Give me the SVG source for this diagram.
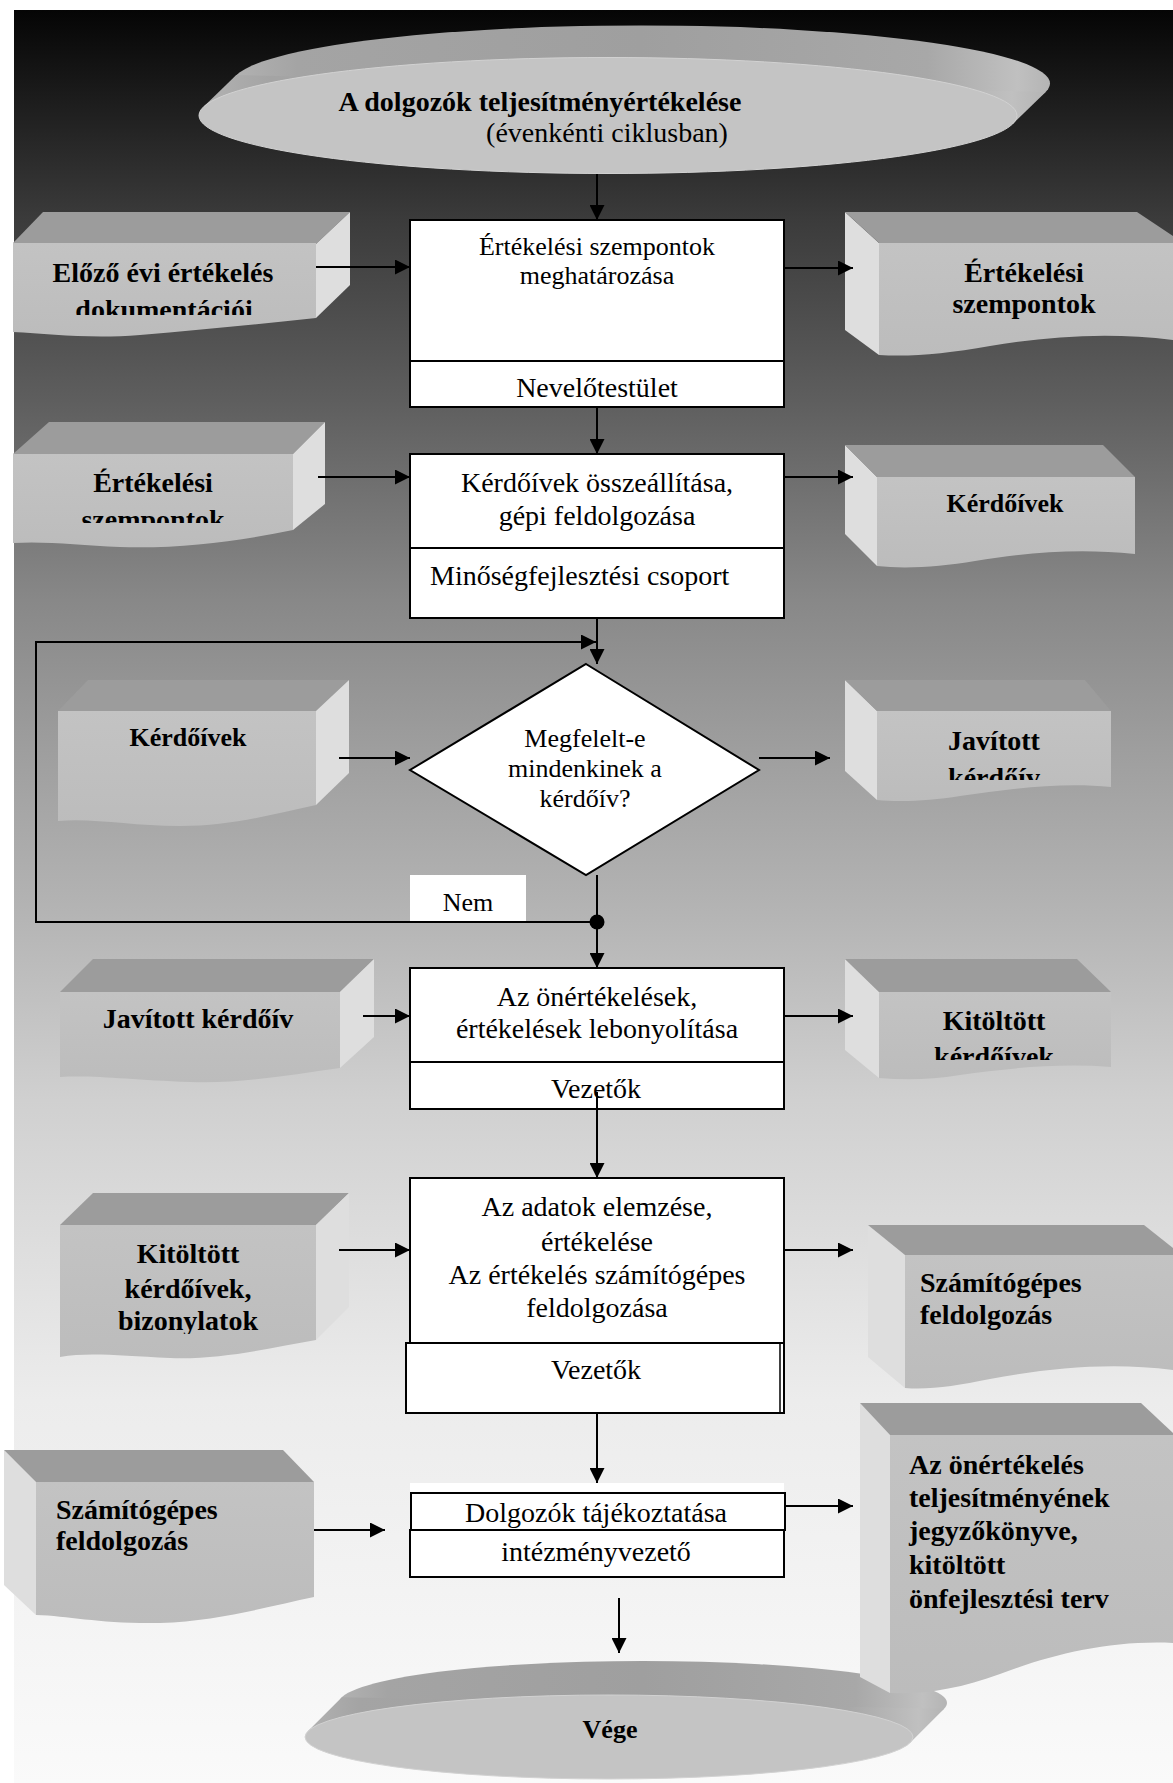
<svg xmlns="http://www.w3.org/2000/svg" width="1173" height="1783" viewBox="0 0 1173 1783">
<defs>
<style>
.t{font-family:"Liberation Serif","Times New Roman",serif;font-size:28px;fill:#000}
.b{font-weight:bold}
.c{text-anchor:middle}
.box{fill:#fff;stroke:#000;stroke-width:2}
.top{fill:#9c9c9c}
.side{fill:#dedede}
.front{fill:url(#docFront)}
.rim{fill:url(#rim)}
.face{fill:#c4c4c4;stroke:#d2d2d2;stroke-width:1}
.conn{stroke:#000;stroke-width:2;fill:none}
</style>
<linearGradient id="bg" x1="0" y1="0" x2="0" y2="1">
<stop offset="0" stop-color="#050505"/>
<stop offset="0.118" stop-color="#3b3b3b"/>
<stop offset="0.22" stop-color="#5e5e5e"/>
<stop offset="0.333" stop-color="#888888"/>
<stop offset="0.417" stop-color="#9e9e9e"/>
<stop offset="0.513" stop-color="#b5b5b5"/>
<stop offset="0.615" stop-color="#d0d0d0"/>
<stop offset="0.784" stop-color="#ececec"/>
<stop offset="1" stop-color="#fafafa"/>
</linearGradient>
<linearGradient id="docFront" x1="0" y1="0" x2="0" y2="1">
<stop offset="0" stop-color="#c3c3c3"/>
<stop offset="1" stop-color="#bcbcbc"/>
</linearGradient>
<linearGradient id="rim" x1="0" y1="0" x2="1" y2="0">
<stop offset="0" stop-color="#b2b2b2"/>
<stop offset="0.08" stop-color="#a4a4a4"/>
<stop offset="0.5" stop-color="#9f9f9f"/>
<stop offset="0.85" stop-color="#a8a8a8"/>
<stop offset="0.96" stop-color="#c0c0c0"/>
<stop offset="1" stop-color="#b4b4b4"/>
</linearGradient>
<marker id="ah" markerUnits="userSpaceOnUse" markerWidth="15" markerHeight="15" refX="15" refY="7.5" orient="auto">
<path d="M0,0 L15,7.5 L0,15 Z" fill="#000"/>
</marker>
<clipPath id="clipL1"><rect x="13" y="243" width="305" height="72"/></clipPath>
<clipPath id="clipL2"><rect x="13" y="454" width="280" height="69"/></clipPath>
<clipPath id="clipR3"><rect x="877" y="711" width="234" height="69"/></clipPath>
<clipPath id="clipR4"><rect x="879" y="992" width="232" height="68"/></clipPath>
<clipPath id="clipL5"><rect x="60" y="1225" width="256" height="109"/></clipPath>
</defs>

<rect x="14" y="10" width="1159" height="1773" fill="url(#bg)"/>

<g id="start">
<ellipse class="rim" cx="641" cy="83.5" rx="409" ry="58"/>
<polygon class="rim" points="203.3,107.1 236.3,75.1 1045.7,91.9 1012.7,123.9"/>
<ellipse class="face" cx="608" cy="115.5" rx="409" ry="58"/>
<text class="t b c" x="540" y="111">A dolgozók teljesítményértékelése</text>
<text class="t c" x="607" y="142">(évenkénti ciklusban)</text>
</g>

<g id="box1">
<rect class="box" x="410" y="220" width="374" height="141"/>
<rect class="box" x="410" y="361" width="374" height="46"/>
<text class="t c" x="597" y="255" style="font-size:26px">Értékelési szempontok</text>
<text class="t c" x="597" y="284" style="font-size:26px">meghatározása</text>
<text class="t c" x="597" y="397">Nevelőtestület</text>
</g>

<g id="box2">
<rect class="box" x="410" y="454" width="374" height="94"/>
<rect class="box" x="410" y="548" width="374" height="70"/>
<text class="t c" x="597" y="492">Kérdőívek összeállítása,</text>
<text class="t c" x="597" y="525">gépi feldolgozása</text>
<text class="t" x="430" y="585">Minőségfejlesztési csoport</text>
</g>

<g id="decision">
<polygon class="box" points="586,664 759,770 586,875 410,770"/>
<text class="t c" x="585" y="747" style="font-size:26px">Megfelelt-e</text>
<text class="t c" x="585" y="777" style="font-size:26px">mindenkinek a</text>
<text class="t c" x="585" y="807" style="font-size:26px">kérdőív?</text>
</g>

<g id="nem">
<rect x="410" y="875" width="116" height="46" fill="#fff"/>
<text class="t c" x="468" y="911" style="font-size:26px">Nem</text>
</g>

<g id="box3">
<rect class="box" x="410" y="968" width="374" height="94"/>
<rect class="box" x="410" y="1062" width="374" height="47"/>
<text class="t c" x="597" y="1006">Az önértékelések,</text>
<text class="t c" x="597" y="1038">értékelések lebonyolítása</text>
<text class="t c" x="596" y="1098">Vezetők</text>
</g>

<g id="box4">
<rect class="box" x="410" y="1178" width="374" height="165"/>
<rect class="box" x="406" y="1343" width="378" height="70"/>
<line x1="780" y1="1343" x2="780" y2="1413" stroke="#000" stroke-width="1.5"/>
<text class="t c" x="597" y="1216">Az adatok elemzése,</text>
<text class="t c" x="597" y="1251">értékelése</text>
<text class="t c" x="597" y="1284">Az értékelés számítógépes</text>
<text class="t c" x="597" y="1317">feldolgozása</text>
<text class="t c" x="596" y="1379">Vezetők</text>
</g>

<g id="box5">
<rect x="410" y="1483" width="374" height="10" fill="#fff"/>
<rect class="box" x="411" y="1493" width="374" height="37"/>
<rect class="box" x="410" y="1530" width="374" height="47"/>
<text class="t c" x="596" y="1522">Dolgozók tájékoztatása</text>
<text class="t c" x="596" y="1561">intézményvezető</text>
</g>

<g id="end">
<ellipse class="rim" cx="643" cy="1703" rx="304" ry="42"/>
<polygon class="rim" points="307.9,1731.2 341.9,1697.2 944.1,1708.8 910.1,1742.8"/>
<ellipse class="face" cx="609" cy="1737" rx="304" ry="42"/>
<text class="t b c" x="610" y="1738" style="font-size:26px">Vége</text>
</g>

<g id="doc-L1">
<polygon class="top" points="13,243 43,212 350,212 316,244"/>
<polygon class="side" points="316,244 350,212 350,285 316,318"/>
<path class="front" d="M13,243 H316 V318 C260,324 200,330 140,335 C90,339 50,334 13,332 Z"/>
<g clip-path="url(#clipL1)">
<text class="t b c" x="163" y="282">Előző évi értékelés</text>
<text class="t b c" x="164" y="319">dokumentációi</text>
</g>
</g>

<g id="doc-R1">
<polygon class="side" points="845,212 879,243 879,355 845,330"/>
<polygon class="top" points="845,212 1137,212 1173,236 1173,243 879,243"/>
<path class="front" d="M879,243 H1173 V340 C1110,332 1050,336 990,346 C945,354 910,357 879,355 Z"/>
<text class="t b c" x="1024" y="282">Értékelési</text>
<text class="t b c" x="1024" y="313">szempontok</text>
</g>

<g id="doc-L2">
<polygon class="top" points="13,454 49,422 325,422 293,454"/>
<polygon class="side" points="293,454 325,422 325,504 293,530"/>
<path class="front" d="M13,454 H293 V530 C240,541 180,549 120,547 C80,545 45,541 13,543 Z"/>
<g clip-path="url(#clipL2)">
<text class="t b c" x="153" y="492">Értékelési</text>
<text class="t b c" x="153" y="529">szempontok</text>
</g>
</g>

<g id="doc-R2">
<polygon class="side" points="845,445 877,477 877,566 845,534"/>
<polygon class="top" points="845,445 1103,445 1135,477 877,477"/>
<path class="front" d="M877,477 H1135 V554 C1080,548 1030,552 975,561 C940,567 905,569 877,566 Z"/>
<text class="t b c" x="1005" y="512" style="font-size:26px">Kérdőívek</text>
</g>

<g id="doc-L3">
<polygon class="top" points="58,711 88,680 349,680 316,711"/>
<polygon class="side" points="316,711 349,680 349,773 316,805"/>
<path class="front" d="M58,711 H316 V805 C270,815 230,826 180,826 C130,826 95,818 58,821 Z"/>
<text class="t b c" x="188" y="746" style="font-size:26px">Kérdőívek</text>
</g>

<g id="doc-R3">
<polygon class="side" points="845,680 877,711 877,800 845,771"/>
<polygon class="top" points="845,680 1085,680 1111,711 877,711"/>
<path class="front" d="M877,711 H1111 V787 C1060,782 1010,789 960,796 C930,801 900,802 877,800 Z"/>
<g clip-path="url(#clipR3)">
<text class="t b c" x="994" y="750">Javított</text>
<text class="t b c" x="994" y="787">kérdőív</text>
</g>
</g>

<g id="doc-L4">
<polygon class="top" points="60,992 93,959 374,959 340,992"/>
<polygon class="side" points="340,992 374,959 374,1037 340,1068"/>
<path class="front" d="M60,992 H340 V1068 C290,1075 240,1084 190,1082 C130,1080 95,1075 60,1077 Z"/>
<text class="t b c" x="198" y="1028">Javított kérdőív</text>
</g>

<g id="doc-R4">
<polygon class="side" points="845,959 879,992 879,1078 845,1050"/>
<polygon class="top" points="845,959 1077,959 1111,992 879,992"/>
<path class="front" d="M879,992 H1111 V1067 C1060,1063 1010,1068 960,1075 C930,1080 905,1080 879,1078 Z"/>
<g clip-path="url(#clipR4)">
<text class="t b c" x="994" y="1030">Kitöltött</text>
<text class="t b c" x="994" y="1066">kérdőívek</text>
</g>
</g>

<g id="doc-L5">
<polygon class="top" points="60,1225 93,1193 349,1193 316,1225"/>
<polygon class="side" points="316,1225 349,1193 349,1307 316,1340"/>
<path class="front" d="M60,1225 H316 V1340 C270,1348 220,1360 170,1358 C120,1356 90,1352 60,1357 Z"/>
<g clip-path="url(#clipL5)">
<text class="t b c" x="188" y="1263">Kitöltött</text>
<text class="t b c" x="188" y="1298">kérdőívek,</text>
<text class="t b c" x="188" y="1330">bizonylatok</text>
</g>
</g>

<g id="doc-R5">
<polygon class="side" points="868,1225 905,1255 905,1388 868,1357"/>
<polygon class="top" points="868,1225 1144,1225 1173,1248 1173,1255 905,1255"/>
<path class="front" d="M905,1255 H1173 V1370 C1110,1362 1050,1368 990,1379 C955,1386 930,1390 905,1388 Z"/>
<text class="t b" x="920" y="1292">Számítógépes</text>
<text class="t b" x="920" y="1324">feldolgozás</text>
</g>

<g id="doc-L6">
<polygon class="side" points="4,1450 36,1482 36,1615 4,1585"/>
<polygon class="top" points="4,1450 283,1450 314,1482 36,1482"/>
<path class="front" d="M36,1482 H314 V1597 C270,1606 220,1621 160,1623 C100,1624 70,1616 36,1615 Z"/>
<text class="t b" x="56" y="1519">Számítógépes</text>
<text class="t b" x="56" y="1550">feldolgozás</text>
</g>

<g id="doc-R6">
<polygon class="side" points="860,1403 890,1435 890,1693 860,1677"/>
<polygon class="top" points="860,1403 1141,1403 1173,1433 1173,1435 890,1435"/>
<path class="front" d="M890,1435 H1173 V1643 C1110,1640 1050,1655 1000,1674 C960,1689 920,1695 890,1693 Z"/>
<text class="t b" x="909" y="1474">Az önértékelés</text>
<text class="t b" x="909" y="1507">teljesítményének</text>
<text class="t b" x="909" y="1540">jegyzőkönyve,</text>
<text class="t b" x="909" y="1574">kitöltött</text>
<text class="t b" x="909" y="1608">önfejlesztési terv</text>
</g>

<g id="connectors">
<line class="conn" x1="597" y1="174" x2="597" y2="220" marker-end="url(#ah)"/>
<line class="conn" x1="316" y1="267" x2="410" y2="267" marker-end="url(#ah)"/>
<line class="conn" x1="784" y1="268" x2="853" y2="268" marker-end="url(#ah)"/>
<line class="conn" x1="597" y1="407" x2="597" y2="454" marker-end="url(#ah)"/>
<line class="conn" x1="318" y1="477" x2="410" y2="477" marker-end="url(#ah)"/>
<line class="conn" x1="784" y1="477" x2="853" y2="477" marker-end="url(#ah)"/>
<line class="conn" x1="597" y1="618" x2="597" y2="664" marker-end="url(#ah)"/>
<polyline class="conn" points="597,922 36,922 36,642 596,642" marker-end="url(#ah)"/>
<line class="conn" x1="339" y1="758" x2="410" y2="758" marker-end="url(#ah)"/>
<line class="conn" x1="759" y1="758" x2="830" y2="758" marker-end="url(#ah)"/>
<line class="conn" x1="597" y1="875" x2="597" y2="968" marker-end="url(#ah)"/>
<circle cx="597" cy="922" r="7.5" fill="#000"/>
<line class="conn" x1="363" y1="1016" x2="410" y2="1016" marker-end="url(#ah)"/>
<line class="conn" x1="784" y1="1016" x2="853" y2="1016" marker-end="url(#ah)"/>
<line class="conn" x1="597" y1="1092" x2="597" y2="1178" marker-end="url(#ah)"/>
<line class="conn" x1="339" y1="1250" x2="410" y2="1250" marker-end="url(#ah)"/>
<line class="conn" x1="784" y1="1250" x2="853" y2="1250" marker-end="url(#ah)"/>
<line class="conn" x1="597" y1="1413" x2="597" y2="1483" marker-end="url(#ah)"/>
<line class="conn" x1="785" y1="1506" x2="853" y2="1506" marker-end="url(#ah)"/>
<line class="conn" x1="314" y1="1530" x2="385" y2="1530" marker-end="url(#ah)"/>
<line class="conn" x1="619" y1="1598" x2="619" y2="1653" marker-end="url(#ah)"/>
</g>
</svg>
